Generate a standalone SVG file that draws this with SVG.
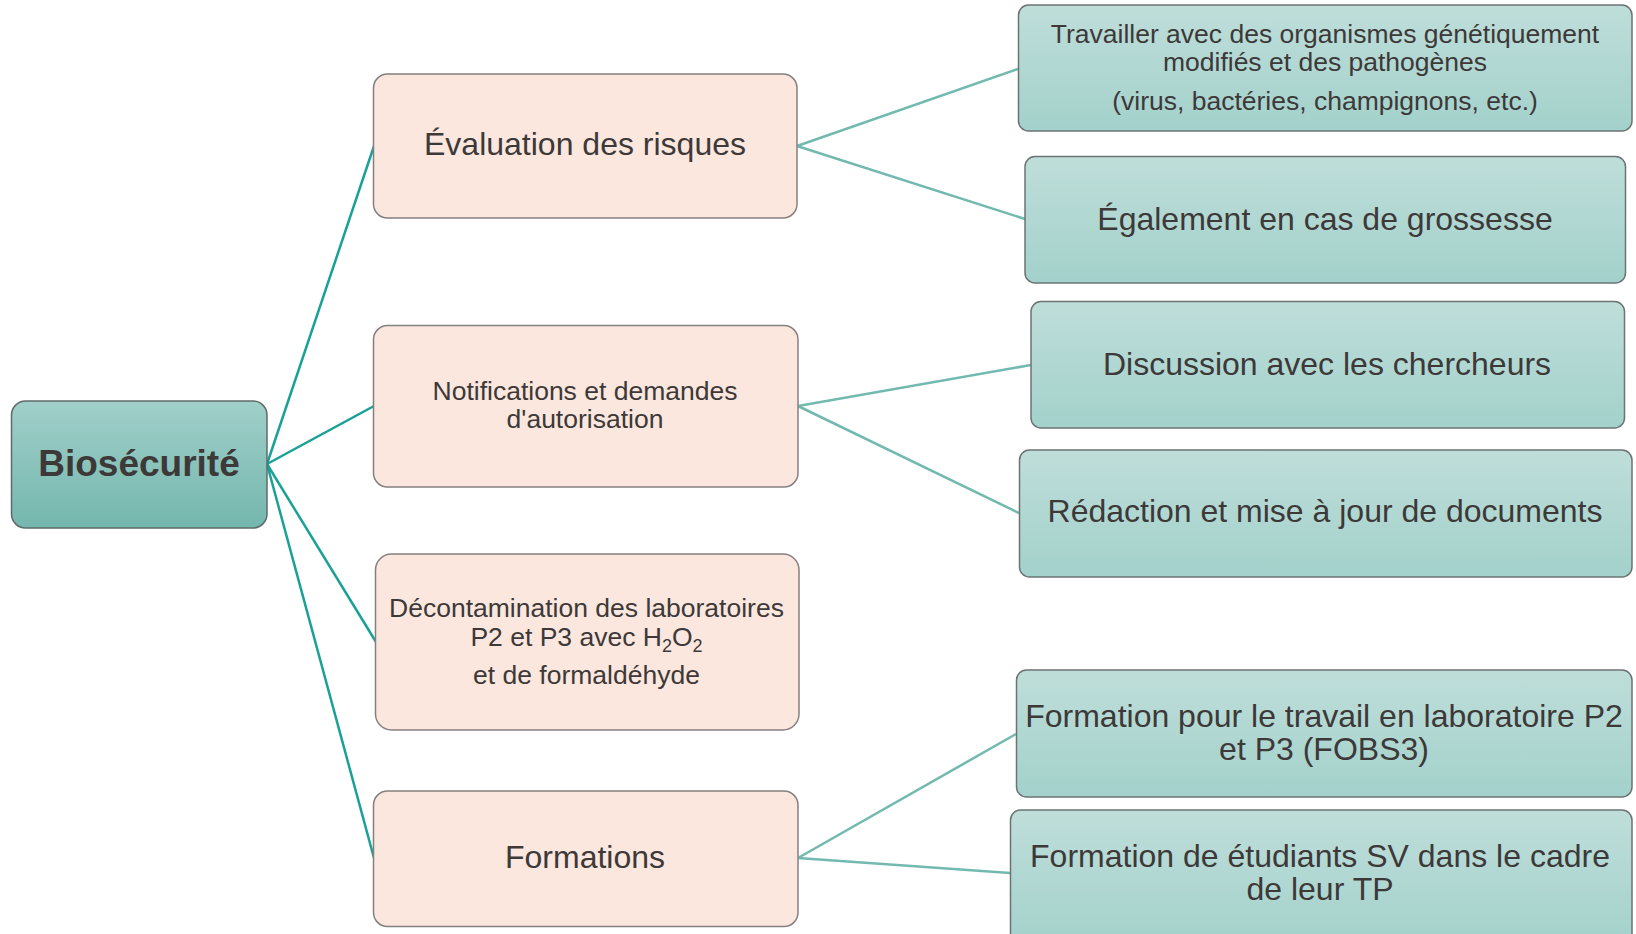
<svg xmlns="http://www.w3.org/2000/svg" width="1636" height="934" viewBox="0 0 1636 934">
<defs>
<linearGradient id="gRoot" x1="0" y1="0" x2="0" y2="1">
<stop offset="0" stop-color="#a0cfc9"/>
<stop offset="1" stop-color="#74b7ae"/>
</linearGradient>
<linearGradient id="gLeaf" x1="0" y1="0" x2="0" y2="1">
<stop offset="0" stop-color="#bfdeda"/>
<stop offset="1" stop-color="#a3d1cb"/>
</linearGradient>
<style>
.root rect{fill:url(#gRoot);stroke:#5e6b69;stroke-width:1.5}
.mid rect{fill:#fbe7de;stroke:#858080;stroke-width:1.5}
.leaf rect{fill:url(#gLeaf);stroke:#6b7473;stroke-width:1.5}
text{font-family:"Liberation Sans",Arial,sans-serif;fill:#3d3939;text-anchor:middle}
.s{font-size:26.5px}
.m{font-size:32px}
.c1{stroke:#1aa197;stroke-width:2.5;fill:none}
.c2{stroke:#72b9b0;stroke-width:2.5;fill:none}
</style>
</defs>
<rect width="1636" height="934" fill="#ffffff"/>
<g id="connectors">
<line class="c1" x1="267" y1="464" x2="374" y2="146"/>
<line class="c1" x1="267" y1="464" x2="374" y2="406"/>
<line class="c1" x1="267" y1="464" x2="376" y2="642"/>
<line class="c1" x1="267" y1="464" x2="374" y2="858"/>
<line class="c2" x1="797" y1="146" x2="1018" y2="69"/>
<line class="c2" x1="797" y1="146" x2="1025" y2="219"/>
<line class="c2" x1="798" y1="406" x2="1031" y2="365"/>
<line class="c2" x1="798" y1="406" x2="1019" y2="513"/>
<line class="c2" x1="798" y1="858" x2="1016" y2="734"/>
<line class="c2" x1="798" y1="858" x2="1010" y2="873"/>
</g>
<g id="root" class="root">
<rect x="11.5" y="401" width="255.5" height="127" rx="14"/>
<text x="139" y="476" style="font-size:37px;font-weight:bold">Biosécurité</text>
</g>
<g id="evaluation" class="mid">
<rect x="373.5" y="74" width="423.5" height="144" rx="14"/>
<text class="m" x="585" y="155">Évaluation des risques</text>
</g>
<g id="notifications" class="mid">
<rect x="373.5" y="325.5" width="424.5" height="161.5" rx="14"/>
<text class="s" x="585" y="399.5">Notifications et demandes</text>
<text class="s" x="585" y="427.5">d'autorisation</text>
</g>
<g id="decontamination" class="mid">
<rect x="375.5" y="554" width="423.5" height="176" rx="16"/>
<text class="s" x="586.5" y="616.5">Décontamination des laboratoires</text>
<text class="s" x="586.5" y="646">P2 et P3 avec H<tspan font-size="18" dy="6">2</tspan><tspan dy="-6">O</tspan><tspan font-size="18" dy="6">2</tspan></text>
<text class="s" x="586.5" y="683.5">et de formaldéhyde</text>
</g>
<g id="formations" class="mid">
<rect x="373.5" y="791" width="424.5" height="135.5" rx="14"/>
<text class="m" x="585" y="868">Formations</text>
</g>
<g id="travailler" class="leaf">
<rect x="1018.5" y="5" width="613.5" height="126" rx="10"/>
<text class="s" x="1325" y="43">Travailler avec des organismes génétiquement</text>
<text class="s" x="1325" y="71">modifiés et des pathogènes</text>
<text class="s" x="1325" y="109.5">(virus, bactéries, champignons, etc.)</text>
</g>
<g id="egalement" class="leaf">
<rect x="1025" y="156.5" width="600.5" height="126.5" rx="10"/>
<text class="m" x="1325" y="229.5">Également en cas de grossesse</text>
</g>
<g id="discussion" class="leaf">
<rect x="1031" y="301.5" width="593.5" height="126.5" rx="10"/>
<text class="m" x="1327" y="374.5">Discussion avec les chercheurs</text>
</g>
<g id="redaction" class="leaf">
<rect x="1019.5" y="450" width="612.5" height="127" rx="10"/>
<text class="m" x="1325" y="521.5">Rédaction et mise à jour de documents</text>
</g>
<g id="formationP2" class="leaf">
<rect x="1016.5" y="670" width="615.5" height="127" rx="10"/>
<text class="m" x="1324" y="727">Formation pour le travail en laboratoire P2</text>
<text class="m" x="1324" y="759.5">et P3 (FOBS3)</text>
</g>
<g id="formationSV" class="leaf">
<rect x="1010.5" y="810" width="621.5" height="140" rx="10"/>
<text class="m" x="1320" y="867">Formation de étudiants SV dans le cadre</text>
<text class="m" x="1320" y="899.5">de leur TP</text>
</g>
</svg>
